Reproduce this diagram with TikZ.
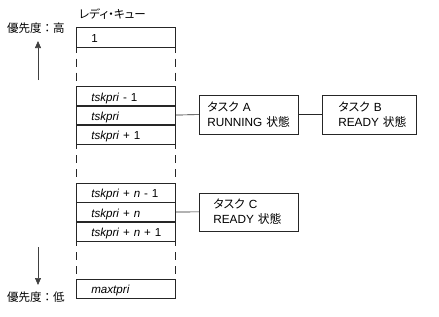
\documentclass[tikz,border=0pt]{standalone}
\usepackage{fontspec}
\setmainfont{Liberation Sans}
\newfontfamily\jp[RawFeature={+palt}]{Noto Sans CJK JP}
\newfontfamily\jpf{Noto Sans CJK JP}
\usetikzlibrary{arrows.meta}
\tikzset{
  ln/.style={draw=black!85, line width=0.65pt},
  qrow/.style={ln, anchor=north west, minimum width=99pt, minimum height=19.5pt,
    text width=84pt, inner xsep=7.5pt, inner ysep=0pt, align=left,
    execute at begin node={\hspace*{7.5pt}},
    text height=10.5pt, text depth=0pt, font=\fontsize{11.6}{13}\selectfont},
  qgap/.style={draw=black!85, line width=0.65pt, dash pattern=on 8pt off 6pt, dash phase=3pt},
  taskbox/.style={ln, anchor=north west, minimum height=39.5pt, inner xsep=8pt,
    align=left, font=\fontsize{11.8}{15}\selectfont},
  lbl/.style={anchor=west, inner sep=0pt, font=\fontsize{11.5}{13}\selectfont},
  prio/.style={draw=black!75, line width=0.7pt, -{Triangle[length=7pt,width=6pt]}}
}
\begin{document}
\begin{tikzpicture}[x=1pt,y=-1pt]
\useasboundingbox (0,0) rectangle (439,316);
% labels
\node[lbl] (title) at (79,14) {\jp レディ・キュー};
\node[lbl] (hi) at (7,28) {\jpf 優先度：高};
\node[lbl] (lo) at (7,297) {\jpf 優先度：低};
\coordinate (uparS) at (38,80);
\coordinate (uparE) at (38,41);
\coordinate (dnarS) at (38,247);
\coordinate (dnarE) at (38,285);
\draw[prio] (uparS) -- (uparE);
\draw[prio] (dnarS) -- (dnarE);
% queue rows
\node[qrow, minimum height=20pt] (r1) at (76,27) {1};
\node[qrow] (rtm1) at (76,86) {\textit{tskpri} - 1};
\node[qrow] (rt) at (76,105) {\textit{tskpri}};
\node[qrow] (rtp1) at (76,124) {\textit{tskpri} + 1};
\node[qrow] (rnm1) at (76,182.5) {\textit{tskpri} + \textit{n} - 1};
\node[qrow] (rn) at (76,202) {\textit{tskpri} + \textit{n}};
\node[qrow] (rnp1) at (76,221) {\textit{tskpri} + \textit{n} + 1};
\node[qrow] (rmax) at (76,278.5) {\textit{maxtpri}};
% dashed gaps
\draw[qgap] (r1.south west) -- (rtm1.north west);
\draw[qgap] (r1.south east) -- (rtm1.north east);
\draw[qgap] (rtp1.south west) -- (rnm1.north west);
\draw[qgap] (rtp1.south east) -- (rnm1.north east);
\draw[qgap] (rnp1.south west) -- (rmax.north west);
\draw[qgap] (rnp1.south east) -- (rmax.north east);
% tasks
\node[taskbox, minimum width=99pt, text width=83pt] (A) at (199,94.5) {{\jp タスク} A\\RUNNING {\jp 状態}};
\node[taskbox, minimum width=94pt, text width=78pt, inner xsep=8pt] (B) at (322,94.5) {\hspace*{8pt}{\jp タスク} B\\\hspace*{8pt}READY {\jp 状態}};
\node[taskbox, minimum width=99pt, text width=83pt, minimum height=38pt] (C) at (199,192.5) {\hspace*{6pt}{\jp タスク} C\\\hspace*{6pt}READY {\jp 状態}};
\draw[ln] (rt.east) -- (A.west);
\draw[ln] (A.east) -- (B.west);
\draw[ln] (rn.east) -- (C.west);
\end{tikzpicture}
\end{document}
